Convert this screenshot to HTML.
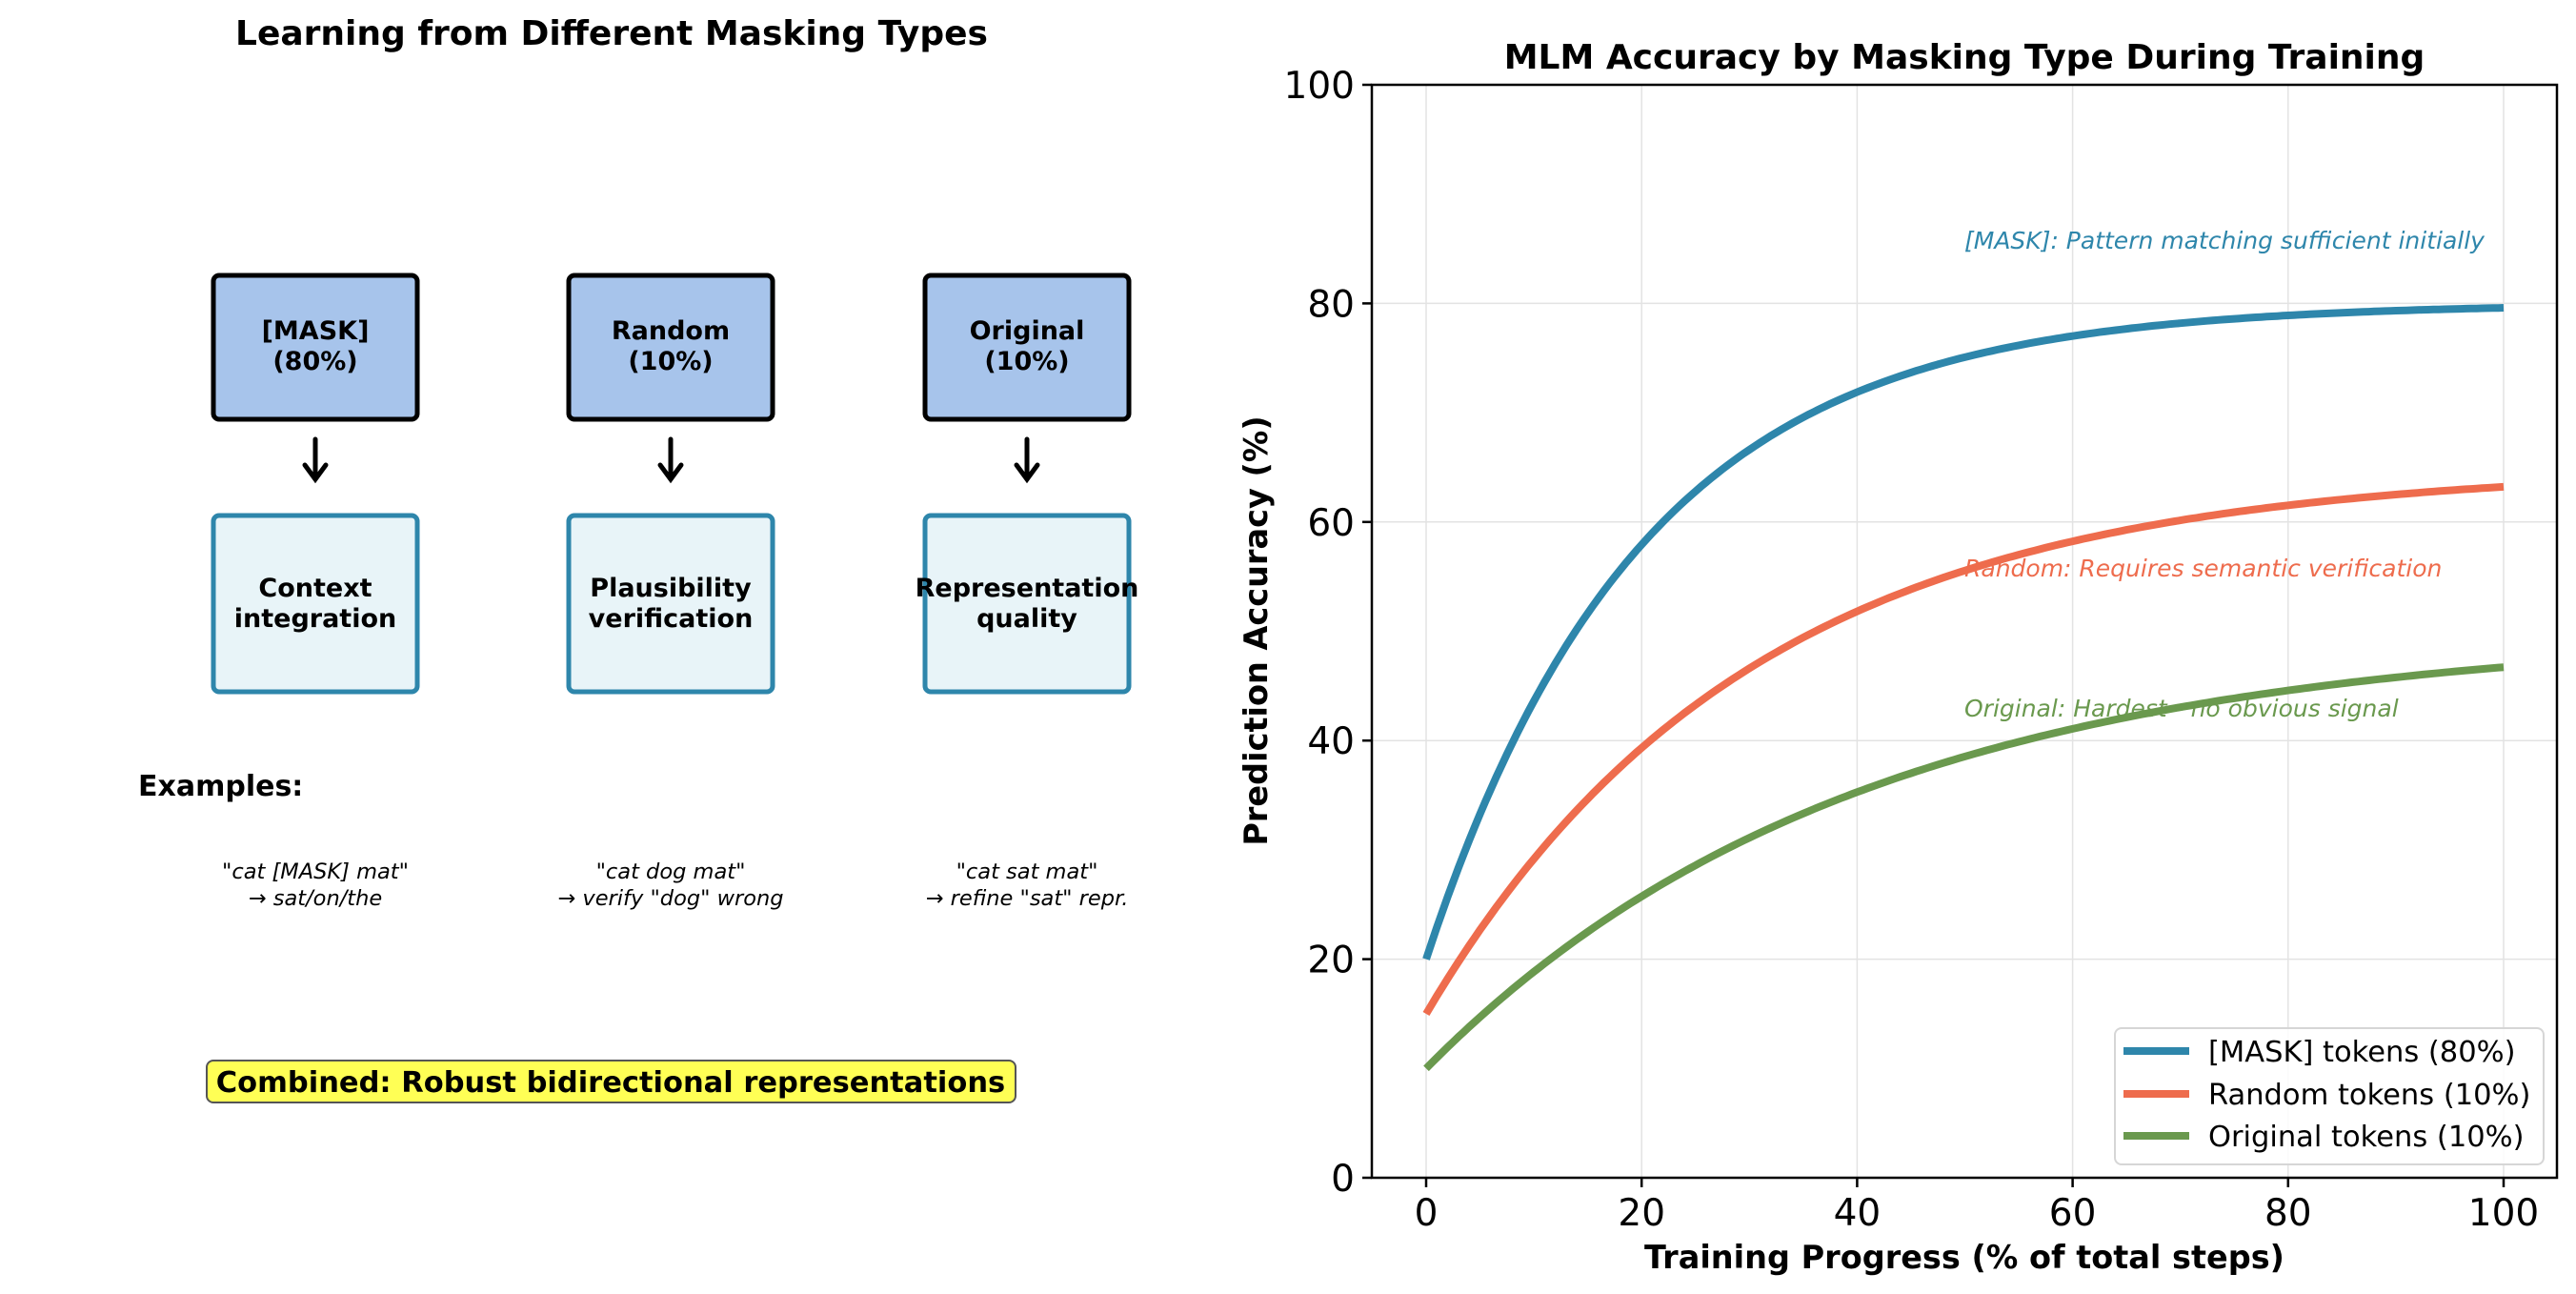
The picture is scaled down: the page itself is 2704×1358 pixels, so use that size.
<!DOCTYPE html>
<html><head><meta charset="utf-8">
<style>
html,body{margin:0;padding:0;background:#fff;}
svg{display:block;font-family:"DejaVu Sans","Liberation Sans",sans-serif;}
</style></head>
<body>
<svg id="s" width="2704" height="1358" viewBox="0 0 2704 1358" xmlns="http://www.w3.org/2000/svg">
<rect width="2704" height="1358" fill="#fff"/>
<!-- LEFT PANEL -->
<text x="642" y="47" font-size="36" font-weight="bold" text-anchor="middle">Learning from Different Masking Types</text>
<g stroke="#000" stroke-width="5" fill="#A7C4EB">
<rect x="224" y="289" width="214" height="151" rx="6"/>
<rect x="597" y="289" width="214" height="151" rx="6"/>
<rect x="971" y="289" width="214" height="151" rx="6"/>
</g>
<g stroke="#2E86AB" stroke-width="5" fill="#E8F4F8">
<rect x="224" y="541" width="214" height="185" rx="6"/>
<rect x="597" y="541" width="214" height="185" rx="6"/>
<rect x="971" y="541" width="214" height="185" rx="6"/>
</g>
<g font-size="27" font-weight="bold" text-anchor="middle">
<text x="331" y="356">[MASK]</text><text x="331" y="388">(80%)</text>
<text x="704" y="356">Random</text><text x="704" y="388">(10%)</text>
<text x="1078" y="356">Original</text><text x="1078" y="388">(10%)</text>
<text x="331" y="626">Context</text><text x="331" y="658">integration</text>
<text x="704" y="626">Plausibility</text><text x="704" y="658">verification</text>
<text x="1078" y="626">Representation</text><text x="1078" y="658">quality</text>
</g>
<g stroke="#000" stroke-width="5" fill="none" stroke-linecap="round">
<path d="M331 461 V501 M320 488 L331 503 L342 488"/>
<path d="M704 461 V501 M693 488 L704 503 L715 488"/>
<path d="M1078 461 V501 M1067 488 L1078 503 L1089 488"/>
</g>
<text x="145" y="835" font-size="30" font-weight="bold">Examples:</text>
<g font-size="22.5" font-style="italic" text-anchor="middle">
<text x="331" y="922">"cat [MASK] mat"</text><text x="331" y="950">→ sat/on/the</text>
<text x="704" y="922">"cat dog mat"</text><text x="704" y="950">→ verify "dog" wrong</text>
<text x="1078" y="922">"cat sat mat"</text><text x="1078" y="950">→ refine "sat" repr.</text>
</g>
<rect x="217" y="1113" width="849" height="44" rx="7" fill="#FFFF55" stroke="#555" stroke-width="2"/>
<text x="641" y="1146" font-size="30.5" font-weight="bold" text-anchor="middle">Combined: Robust bidirectional representations</text>

<!-- RIGHT PANEL -->
<g id="grid" stroke="#e3e3e3" stroke-width="1.5"></g>
<g id="curves" fill="none" stroke-width="8"></g>
<rect x="1440" y="89" width="1244" height="1147" fill="none" stroke="#000" stroke-width="2.5"/>
<g id="ticks" stroke="#000" stroke-width="2.5"></g>
<g id="tl" font-size="39"></g>
<text x="2062" y="72" font-size="36" font-weight="bold" text-anchor="middle">MLM Accuracy by Masking Type During Training</text>
<text x="2062" y="1331" font-size="33.5" font-weight="bold" text-anchor="middle">Training Progress (% of total steps)</text>
<text transform="translate(1330,662) rotate(-90)" font-size="33.5" font-weight="bold" text-anchor="middle">Prediction Accuracy (%)</text>
<g font-size="25" font-style="italic">
<text x="2062" y="261" fill="#2E86AB">[MASK]: Pattern matching sufficient initially</text>
<text x="2062" y="605" fill="#EE6C4D">Random: Requires semantic verification</text>
<text x="2062" y="752" fill="#6A994E">Original: Hardest - no obvious signal</text>
</g>
<rect x="2220" y="1079" width="450" height="143" rx="7" fill="#fff" fill-opacity="0.85" stroke="#d6d6d6" stroke-width="2"/>
<g stroke-width="8">
<line x1="2229" y1="1103" x2="2298" y2="1103" stroke="#2E86AB"/>
<line x1="2229" y1="1148" x2="2298" y2="1148" stroke="#EE6C4D"/>
<line x1="2229" y1="1192" x2="2298" y2="1192" stroke="#6A994E"/>
</g>
<g font-size="30.5">
<text x="2318" y="1114">[MASK] tokens (80%)</text>
<text x="2318" y="1159">Random tokens (10%)</text>
<text x="2318" y="1203">Original tokens (10%)</text>
</g>
</svg>
<script>
(function(){
var NS="http://www.w3.org/2000/svg";
function X(v){return 1497+v*11.31;}
function Y(v){return 1236-v*11.47;}
function el(p,t,a,txt){var e=document.createElementNS(NS,t);for(var k in a)e.setAttribute(k,a[k]);if(txt!=null)e.textContent=txt;document.getElementById(p).appendChild(e);}
for(var i=0;i<=100;i+=20){
 el("grid","line",{x1:X(i),x2:X(i),y1:89,y2:1236});
 el("grid","line",{x1:1440,x2:2684,y1:Y(i),y2:Y(i)});
 el("ticks","line",{x1:X(i),x2:X(i),y1:1236,y2:1246});
 el("ticks","line",{x1:1430,x2:1440,y1:Y(i),y2:Y(i)});
 el("tl","text",{x:X(i),y:1286,"text-anchor":"middle"},String(i));
 el("tl","text",{x:1422,y:Y(i)+14,"text-anchor":"end"},String(i));
}
var S=[[20,60,20,"#2E86AB"],[15,50,30,"#EE6C4D"],[10,40,40,"#6A994E"]];
S.forEach(function(s){var d="";for(var x=0;x<=100;x+=0.5){var y=s[0]+s[1]*(1-Math.exp(-x/s[2]));d+=(x?"L":"M")+X(x).toFixed(1)+" "+Y(y).toFixed(1);}el("curves","path",{d:d,stroke:s[3]});});
})();
</script>
</body></html>
